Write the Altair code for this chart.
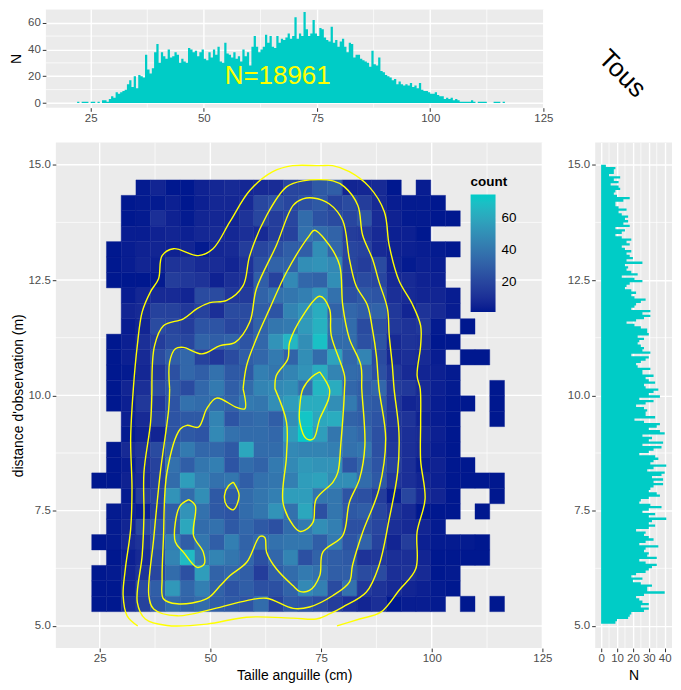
import altair as alt
import pandas as pd

FONT = "Liberation Sans"
TEAL = "#00CCC6"
N = None

# ---- top histogram: counts per 0.5 cm starting at 22 cm
size_start, size_step = 22.0, 0.5
size_counts = [1,0,1,1,1,0,1,1,0,1,0,2,2,1,3,5,4,8,7,8,9,10,14,17,12,20,11,21,20,19,36,25,22,26,38,44,30,38,35,33,
 40,34,35,38,36,30,33,31,30,41,40,38,39,35,38,40,33,32,38,34,40,36,42,31,30,45,37,36,34,38,33,35,31,40,35,38,28,42,50,42,
 38,40,42,51,45,50,42,41,50,45,48,47,49,52,48,50,64,48,52,50,68,55,50,52,62,52,50,56,55,49,47,46,57,45,47,42,46,48,42,38,
 45,44,34,36,36,33,32,31,30,27,39,29,28,34,24,23,21,20,19,17,18,14,16,14,13,14,13,15,12,13,11,15,10,9,9,8,7,7,8,6,
 5,5,3,4,3,4,2,3,2,1,1,1,1,1,2,1,0,1,1,1,1,0,0,0,1,1,1,0,1,0,0]

# ---- right histogram: counts per 0.05 m, from 15 m downwards
depth_top, depth_step = 15.0, 0.05
depth_counts = [2,3,9,8,8,5,12,8,11,6,11,12,9,8,10,18,14,9,9,11,16,11,13,17,15,17,14,18,9,15,13,9,13,19,16,18,13,15,19,16,
 18,20,16,26,15,17,16,19,23,13,21,26,18,16,15,19,22,19,21,28,25,22,21,19,31,26,31,27,22,16,21,25,29,29,30,23,27,24,23,25,
 27,26,31,19,30,28,25,22,23,31,26,26,33,28,30,34,27,28,36,33,30,37,24,33,28,22,27,29,28,28,34,21,27,37,35,30,37,40,26,32,
 30,39,26,38,33,30,24,34,36,33,31,41,33,29,40,38,32,39,33,39,33,31,30,35,37,30,25,24,31,38,30,26,34,30,41,32,30,34,30,22,
 28,27,30,33,28,24,36,28,27,30,29,35,24,28,35,32,30,28,22,19,26,20,25,32,29,29,40,27,22,24,26,30,25,30,27,19,18,17,10,9]

# ---- 2D counts, top row first, left column first
cell_x0, cell_dx = 23.2, 3.33
cell_y0, cell_dy = 5.31, 0.3343
cells = [
 [N,N,N,2,6,1,1,5,7,8,7,8,9,20,20,28,30,6,7,8,1,N,3],
 [N,N,1,2,2,4,1,4,7,7,8,20,24,20,24,28,18,22,16,8,3,2,2,1],
 [N,N,1,2,10,5,2,6,7,6,12,20,16,20,36,25,22,20,26,9,5,2,2,1,1],
 [N,N,3,3,5,6,4,7,8,7,10,8,16,18,38,36,32,16,14,8,4,4,1],
 [N,1,3,5,6,5,6,2,7,8,16,20,24,30,30,50,34,20,18,8,5,4,3,2,1],
 [N,1,3,6,4,12,12,8,9,6,12,24,32,32,50,52,48,20,16,22,6,2,4,3],
 [N,1,1,1,2,16,14,12,5,10,12,30,18,48,34,32,50,20,22,20,8,8,5,4],
 [N,N,3,7,8,8,6,22,22,14,15,32,38,40,44,52,38,24,28,26,10,8,6,6,3],
 [N,N,6,8,18,18,14,18,10,22,22,30,26,46,52,62,32,34,30,32,14,6,12,8,3],
 [N,N,3,6,22,20,16,26,26,20,22,32,40,42,55,64,38,36,22,24,14,12,14,2,N,1],
 [N,1,4,10,16,22,20,32,30,32,26,34,52,66,50,70,36,36,24,26,8,12,10,1,1],
 [N,1,4,8,22,30,34,18,14,22,30,34,42,32,50,36,58,34,46,22,8,10,8,3,N,1,1],
 [N,1,2,7,14,24,34,30,38,28,28,44,40,46,52,62,46,36,34,24,14,8,6,4,2],
 [N,1,6,10,22,28,22,34,42,30,36,46,48,50,38,66,62,34,30,34,16,14,8,4,2,N,N,1],
 [N,1,4,14,14,26,38,36,36,32,42,40,50,56,62,62,50,42,30,28,14,6,8,3,1,1,N,1],
 [N,N,4,8,18,26,28,28,46,26,34,36,30,50,72,60,62,32,30,26,14,12,5,3,1,N,N,1],
 [N,N,2,5,6,26,28,26,48,38,36,36,34,56,74,56,40,38,34,24,12,10,8,4,1],
 [N,1,8,12,22,32,42,34,34,28,60,36,36,48,46,46,44,38,40,24,14,10,7,3,1],
 [N,1,3,10,18,38,30,40,44,26,36,32,42,48,54,52,52,26,34,26,18,10,3,5,1,1],
 [1,1,5,8,18,36,56,44,38,40,30,38,40,44,56,58,50,50,36,28,14,10,6,4,1,1,1,1],
 [N,N,2,16,20,52,36,50,28,30,36,40,44,56,56,40,40,26,24,16,3,20,8,6,1,N,N,1],
 [N,2,4,3,16,30,52,38,28,26,36,40,52,38,60,24,40,28,30,20,12,8,1,1,1,N,1],
 [N,2,6,20,26,30,60,36,38,28,34,28,24,36,42,50,44,24,24,20,10,8,6,2],
 [1,2,8,12,26,44,30,40,30,44,32,36,38,40,40,30,42,26,32,18,6,16,4,2,2,2,1],
 [N,1,4,8,22,46,68,42,46,40,34,24,34,46,24,32,30,28,12,14,10,10,6,1,1,1,1],
 [1,2,6,12,20,36,24,56,32,34,30,16,30,36,42,38,30,30,22,22,10,12,8,1,2],
 [1,1,6,22,30,54,34,44,32,26,30,24,24,32,48,44,22,38,14,12,8,6,4,2,1],
 [1,1,10,18,28,36,32,36,30,28,26,36,18,28,26,22,16,10,6,10,1,3,3,2,N,1,N,1],
]
count_min, count_max = 1, 75
count_ticks = [20, 40, 60]

# ---- contours: (size cm, distance m)
contours = {
 "a": [(33.6,5.0),(31.2,5.22),(30.3,5.66),(30.8,6.24),(32.0,7.10),(32.3,7.97),(32.0,9.06),(32.6,10.14),(33.5,11.08),(34.6,11.81),(36.5,12.25),(38.3,12.53),(39.1,13.03),(41.7,13.18),(47.3,13.03),(50.6,13.18),(54.4,13.76),(58.9,14.44),(64.1,14.85),(68.6,14.98),(74.7,14.98),(77.6,14.98),(81.4,14.85),(85.9,14.52),(89.3,13.98),(90.4,13.25),(92.6,12.49),(95.6,11.98),(97.5,11.51),(97.5,11.08),(96.7,10.43),(97.4,10.14),(97.5,9.43),(97.5,8.59),(98.5,7.75),(96.7,7.04),(96.4,6.24),(92.6,5.77),(88.5,5.30),(83.7,5.15),(78.6,5.0)],
 "b": [(36.8,10.14),(37.4,11.08),(39.4,11.51),(43.9,11.66),(47.0,11.88),(49.9,12.01),(53.7,12.06),(57.4,12.38),(58.9,13.03),(62.7,13.90),(67.2,14.52),(70.9,14.65),(77.7,14.65),(80.3,14.52),(83.3,14.12),(84.4,13.47),(86.6,12.96),(88.1,12.46),(90.0,11.88),(90.4,11.30),(91.1,10.65),(91.5,10.14),(92.6,9.20),(92.3,8.33),(90.4,7.32),(88.1,6.31),(85.2,5.73),(79.9,5.41),(76.9,5.26),(73.9,5.15),(68.7,5.17),(58.2,5.19),(49.2,5.04),(40.2,5.01),(35.3,5.15),(33.5,5.51),(34.6,6.53),(35.0,7.39),(35.0,8.33),(36.5,9.42),(36.8,10.14)],
 "c": [(40.8,10.14),(40.8,10.72),(42.1,11.01),(43.9,11.04),(48.1,10.90),(52.2,11.08),(55.6,11.15),(58.9,11.59),(60.4,12.31),(64.9,13.25),(68.7,14.12),(70.9,14.26),(73.2,14.28),(76.9,14.15),(79.9,13.79),(81.4,12.96),(82.9,12.38),(85.5,11.95),(86.6,11.44),(87.5,10.86),(88.1,10.14),(89.6,9.06),(88.1,7.97),(84.4,7.03),(82.1,6.31),(81.4,5.95),(77.7,5.66),(72.4,5.41),(68.7,5.38),(62.7,5.60),(58.2,5.55),(50.7,5.37),(42.5,5.22),(37.2,5.37),(36.1,5.66),(37.2,6.89),(38.7,8.33),(40.6,9.71),(40.8,10.14)],
 "d": [(57.4,10.14),(58.2,10.65),(60.4,11.23),(63.4,11.88),(67.2,12.67),(72.4,13.47),(73.5,13.58),(76.9,13.25),(79.2,12.82),(79.9,11.95),(81.4,11.23),(84.0,10.65),(84.2,10.14),(84.9,8.91),(83.7,8.19),(81.4,7.68),(79.9,6.96),(75.4,6.60),(74.7,6.09),(72.4,5.77),(70.2,5.75),(68.7,5.87),(64.9,6.24),(62.7,6.60),(62.3,6.92),(61.2,6.94),(58.2,6.38),(54.4,6.09),(52.2,5.87),(49.2,5.59),(42.5,5.48),(39.4,5.59),(39.1,6.02),(39.4,6.89),(40.2,8.33),(43.2,9.27),(44.7,9.35),(47.3,9.31),(49.2,9.71),(51.4,9.94),(55.9,9.74),(57.8,9.71),(57.4,10.14)],
 "e": [(64.6,10.14),(64.9,10.43),(67.5,10.79),(67.9,11.15),(70.9,11.73),(74.7,12.15),(76.9,11.88),(77.3,11.30),(80.3,10.43),(80.3,10.14),(79.5,8.98),(78.8,8.33),(77.7,8.12),(73.9,7.75),(73.2,7.25),(71.3,7.07),(70.2,7.05),(68.7,7.18),(66.4,7.68),(67.2,8.69),(67.2,9.42),(64.6,10.14)],
 "f": [(74.7,10.51),(76.9,10.14),(76.7,9.92),(74.7,9.49),(73.3,9.06),(71.7,9.06),(70.2,9.42),(70.2,9.77),(70.9,10.14),(72.9,10.40),(74.7,10.51)],
 "g": [(45.1,7.74),(46.6,7.61),(46.2,6.96),(48.4,6.60),(48.6,6.34),(47.0,6.27),(43.9,6.60),(42.1,6.82),(42.1,7.25),(43.2,7.61),(45.1,7.74)],
 "h": [(55.2,8.12),(56.5,7.83),(55.2,7.52),(53.7,7.61),(53.2,7.83),(54.1,8.04),(55.2,8.12)],
}

x_ticks = [25, 50, 75, 100, 125]
x_minor = [37.5, 62.5, 87.5, 112.5]
y_ticks = [5, 7.5, 10, 12.5, 15]
y_minor = [6.25, 8.75, 11.25, 13.75]
top_ticks = [0, 20, 40, 60]
top_minor = [10, 30, 50, 70]
right_ticks = [0, 10, 20, 30, 40]
right_minor = [5, 15, 25, 35]
note_text = "N=18961"
corner_text = "Tous"

# ---- tables
df_size = pd.DataFrame({"x": [size_start + size_step * i for i in range(len(size_counts) + 1)],
                        "n": size_counts + [0]})
df_depth = pd.DataFrame({"y": [depth_top - depth_step * i for i in range(len(depth_counts))] + [depth_top - depth_step * len(depth_counts)],
                         "n": depth_counts + [0]}).sort_values("y")
rows = []
for r, row in enumerate(cells):
    j = len(cells) - 1 - r
    for i, v in enumerate(row):
        if v is not None:
            rows.append({"x": cell_x0 + i * cell_dx, "x2": cell_x0 + (i + 1) * cell_dx,
                         "y": cell_y0 + j * cell_dy, "y2": cell_y0 + (j + 1) * cell_dy, "count": v})
df_cells = pd.DataFrame(rows)
df_lines = pd.DataFrame([{"id": k, "o": o, "x": p[0], "y": p[1]}
                         for k, pts in contours.items() for o, p in enumerate(pts)])

X_DOM = [15.1, 125]
MAIN_X_DOM = [12.85, 125]   # leaves the strip that carries the y axis
Y_DOM = [4.52, 15.48]
TOP_DOM = [-3.5, 70.2]
RIGHT_DOM = [-3.7, 44.6]
BG = alt.ViewBackground(fill="#EBEBEB", stroke=None)


def ax(values, title=None, **kw):
    base = dict(values=values, title=title, grid=True, gridColor="white", gridWidth=1.4,
                domain=False, tickColor="#333333", tickSize=3.6, tickWidth=1,
                labelColor="#4D4D4D", labelFontSize=11.5, labelFont=FONT, labelPadding=2,
                titleFont=FONT, titleFontSize=14, titleFontWeight="normal", titleColor="black",
                labelOverlap=False, labelFlush=False)
    base.update(kw)
    return alt.Axis(**base)


def scale(dom):
    return alt.Scale(domain=dom, nice=False, zero=False)


def rule_x(vals, dom, axis, width=0.7):
    return alt.Chart(pd.DataFrame({"v": vals})).mark_rule(color="white", strokeWidth=width).encode(
        x=alt.X("v:Q", scale=scale(dom), axis=axis))


def rule_y(vals, dom, axis, width=0.7):
    return alt.Chart(pd.DataFrame({"v": vals})).mark_rule(color="white", strokeWidth=width).encode(
        y=alt.Y("v:Q", scale=scale(dom), axis=axis))


# ---- top histogram
top_ax_x = ax(x_ticks, labelPadding=1)
top_ax_y = ax(top_ticks, "N", titlePadding=4.2, minExtent=18)
top_x = alt.X("x:Q", scale=scale(X_DOM), axis=top_ax_x)
top_y = alt.Y("n:Q", scale=scale(TOP_DOM), axis=top_ax_y)
top_area = alt.Chart(df_size).mark_area(color=TEAL, interpolate="step-after", clip=True).encode(x=top_x, y=top_y)
top_note = alt.Chart(pd.DataFrame({"x": [66.3], "n": [20], "t": [note_text]})).mark_text(
    color="#FFFF00", font=FONT, fontSize=26).encode(x=top_x, y=top_y, text="t:N")
top = alt.layer(rule_x(x_minor, X_DOM, top_ax_x), rule_y(top_minor, TOP_DOM, top_ax_y), top_area, top_note).properties(
    width=499, height=99, view=BG)

# ---- corner label
corner = alt.Chart(pd.DataFrame({"t": [corner_text]})).mark_text(
    font=FONT, fontSize=26, angle=45, color="black").encode(
    x=alt.value(39), y=alt.value(65), text="t:N").properties(
    width=77, height=99, view=alt.ViewBackground(fill="transparent", stroke=None))

# ---- main panel
main_ax_x = ax(x_ticks, "Taille anguille (cm)", titlePadding=4, labelPadding=1, grid=False, zindex=1)
main_ax_y = ax(y_ticks, "distance d'observation (m)", titlePadding=2.5, format=".1f", grid=False, offset=-10, zindex=1)
main_x = alt.X("x:Q", scale=scale(MAIN_X_DOM), axis=main_ax_x)
main_y = alt.Y("y:Q", scale=scale(Y_DOM), axis=main_ax_y)
panel = alt.Chart(pd.DataFrame({"x": [X_DOM[0]], "x2": [X_DOM[1]], "y": [Y_DOM[0]], "y2": [Y_DOM[1]]})).mark_rect(
    color="#EBEBEB").encode(x=main_x, x2="x2:Q", y=main_y, y2="y2:Q")
count_scale = alt.Scale(domain=[count_min, count_max], range=["#00188F", "#00CDC8"], interpolate="lab")
heat = alt.Chart(df_cells).mark_rect(strokeWidth=0.4).encode(
    x=main_x, x2="x2:Q", y=main_y, y2="y2:Q",
    color=alt.Color("count:Q", scale=count_scale,
                    legend=alt.Legend(orient="none", legendX=426, legendY=32.5, title="count",
                                      titleFont=FONT, titleFontSize=13.5, titleFontWeight="bold", titleColor="black",
                                      titlePadding=6, labelFont=FONT, labelFontSize=13.5, labelColor="black",
                                      values=count_ticks, gradientLength=118, gradientThickness=25,
                                      gradientStrokeWidth=0, labelOffset=6)),
    stroke=alt.Stroke("count:Q", scale=count_scale, legend=None),
)
lines = alt.Chart(df_lines).mark_line(color="#FFFF00", strokeWidth=1.4, interpolate="catmull-rom", clip=True).encode(
    x=main_x, y=main_y, detail="id:N", order="o:Q")


def legend_tick(x0, x1, y):
    return alt.Chart(pd.DataFrame({"a": [0]})).mark_rule(color="white", opacity=0.7, strokeWidth=1).encode(
        x=alt.value(x0), x2=alt.value(x1), y=alt.value(y))


legend_marks = [legend_tick(a, b, y) for y in (138.7, 107, 75.3) for a, b in ((426, 431), (446, 451))]
main = alt.layer(panel,
                 rule_x(x_ticks, MAIN_X_DOM, main_ax_x, 1.4), rule_y(y_ticks, Y_DOM, main_ax_y, 1.4),
                 rule_x(x_minor, MAIN_X_DOM, main_ax_x), rule_y(y_minor, Y_DOM, main_ax_y),
                 heat, lines, *legend_marks).properties(
    width=498, height=507, view=alt.ViewBackground(fill="transparent", stroke=None))

# ---- right histogram
right_ax_x = ax(right_ticks, "N", titlePadding=4, labelPadding=1)
right_ax_y = ax(y_ticks, None, format=".1f")
right_x = alt.X("n:Q", scale=scale(RIGHT_DOM), axis=right_ax_x)
right_y = alt.Y("y:Q", scale=scale(Y_DOM), axis=right_ax_y)
right_area = alt.Chart(df_depth).mark_area(color=TEAL, orient="horizontal", interpolate="step-after", clip=True).encode(
    x=right_x, y=right_y)
right = alt.layer(rule_x(right_minor, RIGHT_DOM, right_ax_x), rule_y(y_minor, Y_DOM, right_ax_y), right_area).properties(
    width=77, height=507, view=BG)

chart = alt.vconcat(
    alt.hconcat(top, corner, spacing=30),
    alt.hconcat(main, right, spacing=15),
    spacing=17,
).resolve_scale(color="independent").configure_view(stroke=None).properties(
    padding={"left": 1, "top": -1, "right": 0, "bottom": 0})

chart.save("out.html", embed_options={"renderer": "svg", "actions": False})
